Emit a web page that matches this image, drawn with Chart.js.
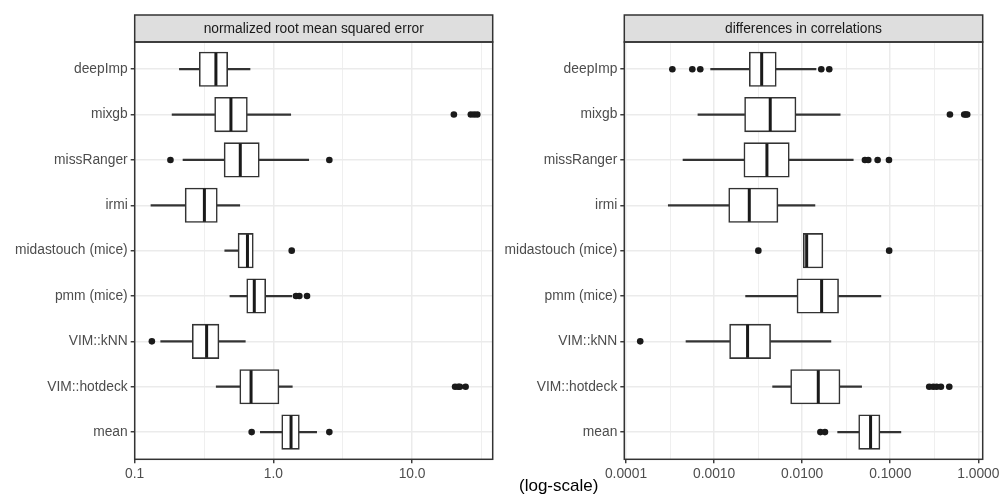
<!DOCTYPE html>
<html lang="en">
<head>
    <meta charset="UTF-8">
    <title>Imputation method comparison</title>
    <script src="https://cdn.jsdelivr.net/npm/chart.js"></script>
    <style>
        body { margin: 0; background: #fff; font-family: "Liberation Sans", Arial, sans-serif; }
        #wrap { position: relative; width: 1001px; height: 500px; }
        canvas { position: absolute; top: 0; }
        #left { left: 0; }
        #right { left: 500px; }
        #xlab { position: absolute; left: 458.7px; width: 200px; top: 476px; text-align: center; font-size: 17px; color: #000; }
    </style>
</head>
<body>
    <div id="wrap">
        <canvas id="left" width="500" height="500"></canvas>
        <canvas id="right" width="501" height="500"></canvas>
        <div id="xlab">(log-scale)</div>
    </div>

    <script>
        const methods = ['deepImp', 'mixgb', 'missRanger', 'irmi', 'midastouch (mice)', 'pmm (mice)', 'VIM::kNN', 'VIM::hotdeck', 'mean'];

        // normalized root mean squared error
        const nrmseLow  = [0.210, 0.186, 0.223, 0.131, 0.446, 0.486, 0.154, 0.387, 0.805];
        const nrmseQ1   = [0.292, 0.377, 0.441, 0.231, 0.556, 0.642, 0.260, 0.572, 1.148];
        const nrmseMed  = [0.385, 0.494, 0.577, 0.318, 0.650, 0.728, 0.330, 0.690, 1.340];
        const nrmseQ3   = [0.468, 0.649, 0.791, 0.394, 0.716, 0.880, 0.405, 1.097, 1.538];
        const nrmseHigh = [0.678, 1.333, 1.797, 0.572, null, 1.355, 0.627, 1.368, 2.050];
        const nrmseOut  = [[], [20.0, 26.5, 28.0, 29.5], [0.181, 2.53], [], [1.355], [1.455, 1.538, 1.747], [0.133], [20.4, 21.5, 22.1, 24.3], [0.697, 2.53]];
        const nrmseTicks = [0.1, 1, 10];
        const nrmseTickLabels = ['0.1', '1.0', '10.0'];
        const nrmseMinorTicks = [0.3162, 3.162, 31.62];

        // differences in correlations
        const corLow  = [0.000914, 0.000656, 0.000444, 0.000302, null, 0.00228, 0.00048, 0.00462, 0.0253];
        const corQ1   = [0.00251, 0.00222, 0.00218, 0.001465, 0.0103, 0.00873, 0.0015, 0.0074, 0.0438];
        const corMed  = [0.00347, 0.00434, 0.00398, 0.00251, 0.01125, 0.01663, 0.0024, 0.01524, 0.0598];
        const corQ3   = [0.00508, 0.00851, 0.00714, 0.00531, 0.0172, 0.0259, 0.00438, 0.0269, 0.0764];
        const corHigh = [0.01436, 0.0270, 0.0380, 0.01396, null, 0.0783, 0.0212, 0.0473, 0.132];
        const corOut  = [[0.000336, 0.000566, 0.000697, 0.01648, 0.0203], [0.476, 0.692, 0.72, 0.748], [0.0516, 0.0563, 0.0719, 0.0967], [], [0.00318, 0.0972], [], [0.000145], [0.277, 0.308, 0.336, 0.376, 0.468], [0.0161, 0.01815]];
        const corTicks = [0.0001, 0.001, 0.01, 0.1, 1];
        const corTickLabels = ['0.0001', '0.0010', '0.0100', '0.1000', '1.0000'];
        const corMinorTicks = [0.0003162, 0.003162, 0.03162, 0.3162];

        const FONT = '"Liberation Sans", Arial, sans-serif';
        const INK = '#333333';
        Chart.defaults.font.family = FONT;

        // grey strip on top + panel border, like ggplot facets
        const facetStrip = {
            id: 'facetStrip',
            afterDraw(chart, args, opts) {
                const { ctx, chartArea: a } = chart;
                ctx.save();
                ctx.fillStyle = '#dedede';
                ctx.fillRect(a.left, a.top - 27, a.right - a.left, 27);
                ctx.strokeStyle = INK;
                ctx.lineWidth = 1.5;
                ctx.strokeRect(a.left, a.top - 27, a.right - a.left, 27);
                ctx.strokeRect(a.left, a.top, a.right - a.left, a.bottom - a.top);
                ctx.fillStyle = '#1a1a1a';
                ctx.font = '13.8px ' + FONT;
                ctx.textAlign = 'center';
                ctx.textBaseline = 'middle';
                ctx.fillText(opts.text, (a.left + a.right) / 2, a.top - 13);
                ctx.restore();
            }
        };

        function boxPanel(canvasId, cfg) {
            const boxes = [], lowWhisk = [], highWhisk = [], medians = [], outliers = [];
            methods.forEach((m, i) => {
                boxes.push({ x: [cfg.q1[i], cfg.q3[i]], y: i });
                medians.push({ x: cfg.med[i], y: i });
                if (cfg.low[i] !== null) lowWhisk.push({ x: [cfg.low[i], cfg.q1[i]], y: i });
                if (cfg.high[i] !== null) highWhisk.push({ x: [cfg.q3[i], cfg.high[i]], y: i });
                cfg.out[i].forEach(v => outliers.push({ x: v, y: i }));
            });

            const whisker = {
                type: 'bar', grouped: false, barThickness: 1.6,
                backgroundColor: INK, borderWidth: 0, order: 3
            };

            return new Chart(document.getElementById(canvasId), {
                type: 'bar',
                data: {
                    datasets: [
                        Object.assign({ data: lowWhisk }, whisker),
                        Object.assign({ data: highWhisk }, whisker),
                        {
                            type: 'bar', data: boxes, grouped: false, barThickness: 34.5,
                            backgroundColor: '#ffffff', borderColor: INK, borderWidth: 1.6,
                            borderSkipped: false, order: 2
                        },
                        {
                            type: 'scatter', data: medians, pointStyle: 'line', pointRadius: 16.5,
                            pointRotation: 90, pointBorderColor: '#1a1a1a', pointBorderWidth: 3, order: 1
                        },
                        {
                            type: 'scatter', data: outliers, pointRadius: 3.3,
                            pointBackgroundColor: '#1a1a1a', pointBorderWidth: 0, order: 0
                        }
                    ]
                },
                options: {
                    indexAxis: 'y',
                    responsive: false,
                    animation: false,
                    devicePixelRatio: 1,
                    events: [],
                    layout: { autoPadding: false, padding: { left: 0, right: cfg.padRight, top: 42, bottom: 0 } },
                    plugins: {
                        legend: { display: false },
                        tooltip: { enabled: false },
                        facetStrip: { text: cfg.title }
                    },
                    scales: {
                        x: {
                            type: 'logarithmic',
                            min: cfg.min,
                            max: cfg.max,
                            bounds: 'data',
                            afterBuildTicks: scale => {
                                scale.ticks = cfg.ticks.map(v => ({ value: v, major: true }))
                                    .concat(cfg.minor.map(v => ({ value: v, major: false })));
                            },
                            afterFit: scale => {
                                scale.height = 40.7;
                                scale.paddingLeft = 0;
                                scale.paddingRight = 0;
                            },
                            border: { display: false },
                            grid: {
                                color: '#ebebeb',
                                lineWidth: c => (c.tick && c.tick.major) ? 1.5 : 0.8,
                                tickColor: c => (c.tick && c.tick.major) ? INK : 'rgba(0,0,0,0)',
                                tickLength: 4,
                                tickWidth: 1.4
                            },
                            ticks: {
                                autoSkip: false,
                                maxRotation: 0,
                                padding: 3,
                                color: '#4d4d4d',
                                font: { size: 13.8 },
                                callback: (v, i, ticks) => ticks[i].major ? cfg.tickLabels[cfg.ticks.indexOf(v)] : ''
                            }
                        },
                        y: {
                            type: 'linear',
                            reverse: true,
                            min: -0.6,
                            max: 8.6,
                            offset: false,
                            afterBuildTicks: scale => {
                                scale.ticks = methods.map((m, i) => ({ value: i }));
                            },
                            afterFit: scale => {
                                scale.width = cfg.axisWidth;
                                scale.paddingTop = 0;
                                scale.paddingBottom = 0;
                            },
                            border: { display: false },
                            grid: {
                                offset: false,
                                color: '#ebebeb',
                                lineWidth: 1.5,
                                tickColor: INK,
                                tickLength: 4,
                                tickWidth: 1.4
                            },
                            ticks: {
                                autoSkip: false,
                                padding: 3,
                                color: '#4d4d4d',
                                font: { size: 13.8 },
                                callback: v => methods[v]
                            }
                        }
                    }
                },
                plugins: [facetStrip]
            });
        }

        boxPanel('left', {
            title: 'normalized root mean squared error',
            low: nrmseLow, q1: nrmseQ1, med: nrmseMed, q3: nrmseQ3, high: nrmseHigh, out: nrmseOut,
            ticks: nrmseTicks, tickLabels: nrmseTickLabels, minor: nrmseMinorTicks,
            min: 0.1, max: 38.1, axisWidth: 134.7, padRight: 7.3
        });

        boxPanel('right', {
            title: 'differences in correlations',
            low: corLow, q1: corQ1, med: corMed, q3: corQ3, high: corHigh, out: corOut,
            ticks: corTicks, tickLabels: corTickLabels, minor: corMinorTicks,
            min: 0.00009565, max: 1.121, axisWidth: 124.3, padRight: 18.3
        });
    </script>
</body>
</html>
